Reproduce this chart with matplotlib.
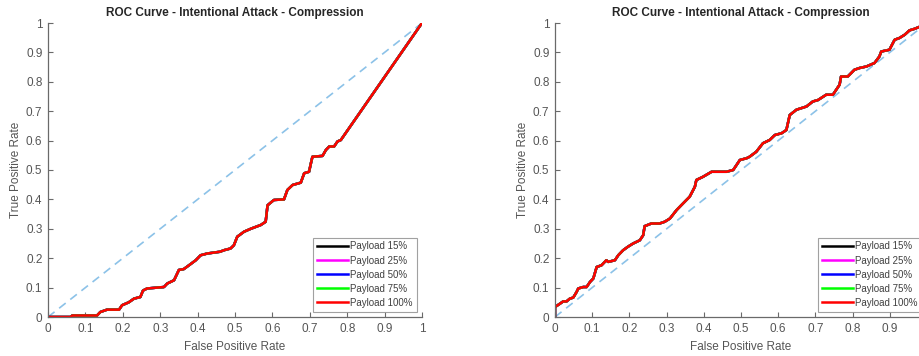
import numpy as np
import matplotlib
matplotlib.use("Agg")
import matplotlib.pyplot as plt

plt.rcParams['font.family'] = ['Liberation Sans', 'DejaVu Sans']

# left panel: ROC corner points
left_fpr = [0.0, 0.06, 0.065, 0.131, 0.14, 0.158, 0.19, 0.198, 0.216, 0.23, 0.247,
            0.254, 0.265, 0.292, 0.31, 0.319, 0.337, 0.35, 0.363, 0.377, 0.395,
            0.408, 0.426, 0.46, 0.47, 0.488, 0.497, 0.506, 0.524, 0.542, 0.569,
            0.582, 0.587, 0.604, 0.631, 0.64, 0.654, 0.676, 0.685, 0.698, 0.703,
            0.707, 0.734, 0.743, 0.752, 0.765, 0.774, 0.783, 1.0]
left_tpr = [0.0, 0.0, 0.005, 0.005, 0.017, 0.025, 0.025, 0.04, 0.05, 0.0625, 0.068,
            0.09, 0.097, 0.1, 0.102, 0.114, 0.125, 0.16, 0.163, 0.176, 0.193,
            0.21, 0.216, 0.222, 0.227, 0.233, 0.244, 0.273, 0.29, 0.3, 0.313,
            0.324, 0.38, 0.398, 0.4, 0.432, 0.449, 0.457, 0.489, 0.494, 0.523,
            0.545, 0.548, 0.568, 0.58, 0.58, 0.597, 0.602, 1.0]

# right panel
right_fpr = [0.0, 0.0, 0.013, 0.022, 0.031, 0.04, 0.049, 0.058, 0.0625, 0.076, 0.085,
             0.094, 0.103, 0.112, 0.125, 0.138, 0.143, 0.161, 0.17, 0.183, 0.196,
             0.21, 0.228, 0.237, 0.241, 0.259, 0.281, 0.295, 0.309, 0.327, 0.344,
             0.362, 0.376, 0.38, 0.398, 0.421, 0.461, 0.479, 0.497, 0.515, 0.523,
             0.541, 0.559, 0.577, 0.591, 0.609, 0.622, 0.631, 0.649, 0.676, 0.693,
             0.707, 0.729, 0.747, 0.756, 0.765, 0.769, 0.787, 0.805, 0.819, 0.837,
             0.859, 0.872, 0.877, 0.899, 0.913, 0.926, 0.94, 0.953, 0.966, 0.98, 1.0]
right_tpr = [0.0, 0.034, 0.045, 0.053, 0.053, 0.0625, 0.066, 0.085, 0.097, 0.102, 0.102,
             0.119, 0.131, 0.17, 0.176, 0.193, 0.1875, 0.193, 0.21, 0.227, 0.239,
             0.25, 0.261, 0.278, 0.309, 0.318, 0.318, 0.324, 0.335, 0.364, 0.386,
             0.409, 0.443, 0.466, 0.477, 0.494, 0.494, 0.5, 0.534, 0.54, 0.545,
             0.562, 0.591, 0.602, 0.619, 0.625, 0.636, 0.687, 0.705, 0.716, 0.733,
             0.738, 0.756, 0.756, 0.773, 0.79, 0.818, 0.818, 0.841, 0.847, 0.852,
             0.864, 0.886, 0.903, 0.909, 0.943, 0.949, 0.96, 0.975, 0.98, 0.987, 1.0]

payloads = ['Payload 15%', 'Payload 25%', 'Payload 50%', 'Payload 75%', 'Payload 100%']
colors = ['black', 'magenta', 'blue', '#00ff00', 'red']
ticks = [0, 0.1, 0.2, 0.3, 0.4, 0.5, 0.6, 0.7, 0.8, 0.9, 1]
tick_labels = ['0', '0.1', '0.2', '0.3', '0.4', '0.5', '0.6', '0.7', '0.8', '0.9', '1']
title = 'ROC Curve - Intentional Attack - Compression'

fig = plt.figure(figsize=(9.2, 3.56), dpi=100)
ax_l = fig.add_axes([48 / 920, 39 / 356, 374 / 920, 294 / 356])
ax_r = fig.add_axes([555 / 920, 39 / 356, 372 / 920, 294 / 356])

for ax, fpr, tpr in [(ax_l, left_fpr, left_tpr), (ax_r, right_fpr, right_tpr)]:
    ax.plot([0, 1], [0, 1], linestyle=(0, (5, 3.5)), color='#8cc2e8', linewidth=1.2)
    for name, c in zip(payloads, colors):
        ax.plot(fpr, tpr, color=c, linewidth=1.8, label=name)
    ax.set_xlim(0, 1)
    ax.set_ylim(0, 1)
    ax.set_xticks(ticks)
    ax.set_xticklabels(tick_labels)
    ax.set_yticks(ticks)
    ax.set_yticklabels(tick_labels)
    ax.spines['top'].set_visible(False)
    ax.spines['right'].set_visible(False)
    for s in ('left', 'bottom'):
        ax.spines[s].set_color('#6a6a6a')
        ax.spines[s].set_linewidth(0.9)
    ax.tick_params(direction='in', length=3.5, width=0.8, colors='#6a6a6a',
                   labelcolor='#555555', labelsize=8.5, pad=4)
    ax.set_title(title, fontsize=8.5, fontweight='bold', color='#262626', pad=5)
    ax.set_xlabel('False Positive Rate', fontsize=8.5, color='#555555', labelpad=5)
    ax.set_ylabel('True Positive Rate', fontsize=8.5, color='#555555', labelpad=3)
    leg = ax.legend(loc='lower right', fontsize=7, frameon=True, fancybox=False,
                    handlelength=3.2, handletextpad=0.2, borderpad=0.4,
                    labelspacing=0.42, borderaxespad=0.55)
    leg.get_frame().set_edgecolor('#8a8a8a')
    leg.get_frame().set_linewidth(0.8)
    for t in leg.get_texts():
        t.set_color('#404040')

# the right panel runs past the picture's edge, so its "1" label is not shown
ax_r.get_xticklabels()[-1].set_visible(False)

fig.savefig('out.png', dpi=100)
